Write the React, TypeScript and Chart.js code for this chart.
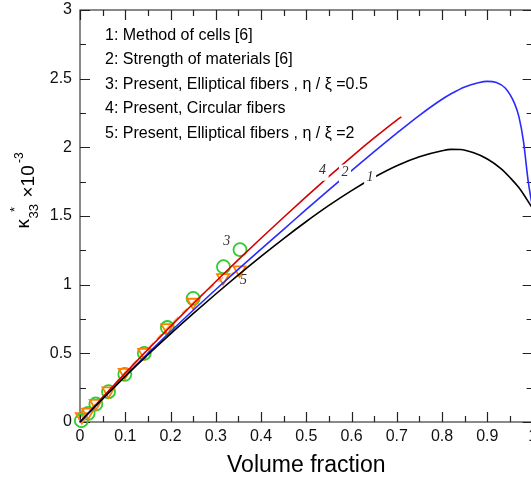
import React, { useEffect, useRef } from "react";
import { Chart, registerables } from "chart.js";

Chart.register(...registerables);

// ---- tick labels / titles ----
const X_TICK_LABELS = ["0", "0.1", "0.2", "0.3", "0.4", "0.5", "0.6", "0.7", "0.8", "0.9", "1"];
const Y_TICK_LABELS = ["0", "0.5", "1", "1.5", "2", "2.5", "3"];
const X_AXIS_TITLE = "Volume fraction";

const LEGEND_LINES = [
  "1: Method of cells [6]",
  "2: Strength of materials [6]",
  "3: Present, Elliptical fibers , \u03b7 / \u03be =0.5",
  "4: Present, Circular fibers",
  "5: Present, Elliptical fibers , \u03b7 / \u03be =2",
];

// ---- series 1: Method of cells ----
const CELLS_X = [0, 0.05, 0.1, 0.15, 0.2, 0.25, 0.3, 0.35, 0.4, 0.45, 0.5, 0.55, 0.6, 0.65, 0.7, 0.75, 0.8, 0.82, 0.84, 0.87, 0.9, 0.93, 0.95, 0.97, 1.0];
const CELLS_Y = [0, 0.168, 0.332, 0.49, 0.642, 0.789, 0.932, 1.071, 1.206, 1.336, 1.46, 1.577, 1.685, 1.782, 1.866, 1.931, 1.975, 1.985, 1.984, 1.96, 1.915, 1.845, 1.78, 1.705, 1.555];

// ---- series 2: Strength of materials ----
const STRENGTH_X = [0, 0.05, 0.1, 0.15, 0.2, 0.25, 0.3, 0.35, 0.4, 0.45, 0.5, 0.55, 0.6, 0.65, 0.7, 0.75, 0.8, 0.82, 0.85, 0.88, 0.9, 0.92, 0.94, 0.96, 0.97, 0.98, 0.99, 1.0];
const STRENGTH_Y = [0, 0.17, 0.337, 0.5, 0.659, 0.814, 0.965, 1.113, 1.259, 1.403, 1.548, 1.69, 1.83, 1.968, 2.103, 2.233, 2.35, 2.39, 2.44, 2.47, 2.48, 2.472, 2.43, 2.32, 2.22, 2.04, 1.76, 1.56];

// ---- series 4: Present, circular fibers ----
const CIRCULAR_X = [0, 0.05, 0.1, 0.15, 0.2, 0.25, 0.3, 0.35, 0.4, 0.45, 0.5, 0.55, 0.6, 0.65, 0.7, 0.71];
const CIRCULAR_Y = [0, 0.18, 0.356, 0.528, 0.696, 0.861, 1.023, 1.182, 1.338, 1.491, 1.641, 1.788, 1.931, 2.068, 2.198, 2.222];

// ---- series 3: Present, elliptical fibers, eta/xi = 0.5 ----
const ELLIPTIC_05_X = [0.003, 0.018, 0.035, 0.063, 0.099, 0.142, 0.193, 0.25, 0.317, 0.3535];
const ELLIPTIC_05_Y = [0.01, 0.063, 0.131, 0.221, 0.347, 0.5, 0.688, 0.9, 1.131, 1.255];

// ---- series 5: Present, elliptical fibers, eta/xi = 2 ----
const ELLIPTIC_2_X = [0.004, 0.018, 0.035, 0.063, 0.099, 0.142, 0.193, 0.25, 0.316, 0.3525];
const ELLIPTIC_2_Y = [0.039, 0.072, 0.136, 0.226, 0.362, 0.507, 0.687, 0.872, 1.051, 1.107];

// ---- curve labels (data coordinates) ----
const CURVE_LABELS = ["1", "2", "3", "4", "5"];
const CURVE_LABEL_X = [0.641, 0.5855, 0.324, 0.536, 0.361];
const CURVE_LABEL_Y = [1.784, 1.816, 1.313, 1.83, 1.029];
const CURVE_LABEL_GAP = [true, true, false, true, false];

const SANS = "'Liberation Sans', Arial, Helvetica, sans-serif";
const SERIF = "'Liberation Serif', 'Times New Roman', serif";

const pts = (xs: number[], ys: number[]) => xs.map((x, i) => ({ x, y: ys[i] }));

const framePlugin = {
  id: "frame",
  beforeDatasetsDraw(chart: any) {
    const { ctx, chartArea: a, scales } = chart;
    const xs = scales.x;
    const ys = scales.y;
    ctx.save();
    ctx.strokeStyle = "#4a4a4a";
    ctx.lineWidth = 1.3;
    ctx.strokeRect(a.left, a.top, a.right - a.left, a.bottom - a.top);
    ctx.strokeStyle = "#222";
    ctx.lineWidth = 1.2;
    ctx.beginPath();
    const xMax = X_TICK_LABELS.length - 1;
    for (let i = 0; i <= xMax * 2; i++) {
      const v = i / (xMax * 2);
      const px = Math.round(xs.getPixelForValue(v)) + 0.5;
      const len = i % 2 === 0 ? 10 : 6;
      ctx.moveTo(px, a.bottom);
      ctx.lineTo(px, a.bottom - len);
      ctx.moveTo(px, a.top);
      ctx.lineTo(px, a.top + len);
    }
    const yMaxVal = parseFloat(Y_TICK_LABELS[Y_TICK_LABELS.length - 1]);
    const yN = (Y_TICK_LABELS.length - 1) * 2;
    for (let i = 0; i <= yN; i++) {
      const v = (i / yN) * yMaxVal;
      const py = Math.round(ys.getPixelForValue(v)) + 0.5;
      const len = i % 2 === 0 ? 10 : 6;
      ctx.moveTo(a.left, py);
      ctx.lineTo(a.left + len, py);
      ctx.moveTo(a.right, py);
      ctx.lineTo(a.right - len, py);
    }
    ctx.stroke();
    ctx.restore();
  },
};

const labelsPlugin = {
  id: "curveLabels",
  afterDatasetsDraw(chart: any) {
    const { ctx, scales } = chart;
    ctx.save();
    ctx.font = "italic 14px " + SERIF;
    ctx.textAlign = "center";
    ctx.textBaseline = "middle";
    CURVE_LABELS.forEach((t, i) => {
      const px = scales.x.getPixelForValue(CURVE_LABEL_X[i]);
      const py = scales.y.getPixelForValue(CURVE_LABEL_Y[i]);
      if (CURVE_LABEL_GAP[i]) {
        ctx.fillStyle = "#ffffff";
        ctx.fillRect(px - 6, py - 8, 12, 18);
      }
      ctx.fillStyle = "#333";
      ctx.fillText(t, px, py);
    });
    ctx.restore();
  },
};

const textPlugin = {
  id: "texts",
  afterDraw(chart: any) {
    const { ctx, chartArea: a } = chart;
    ctx.save();
    // legend block
    ctx.fillStyle = "#000";
    ctx.font = "16px " + SANS;
    ctx.textAlign = "left";
    ctx.textBaseline = "alphabetic";
    LEGEND_LINES.forEach((t, i) => {
      ctx.fillText(t, a.left + 25, a.top + 30 + i * 24.4);
    });
    // x axis title
    ctx.font = "23px " + SANS;
    ctx.textAlign = "center";
    ctx.fillText(X_AXIS_TITLE, (a.left + a.right) / 2, 472);
    // y axis title pieces (rotated)
    const piece = (txt: string, font: string, bx: number, startY: number) => {
      ctx.save();
      ctx.translate(bx, startY);
      ctx.rotate(-Math.PI / 2);
      ctx.font = font;
      ctx.textAlign = "left";
      ctx.textBaseline = "alphabetic";
      ctx.fillText(txt, 0, 0);
      ctx.restore();
    };
    piece("\u03ba", "19px " + SANS, 28.5, 228.5);
    piece("33", "13px " + SANS, 37.5, 218.5);
    piece("*", "13px " + SANS, 19, 212);
    piece("\u00d710", "19px " + SANS, 33.5, 197.5);
    piece("-3", "12px " + SANS, 23, 163);
    ctx.restore();
  },
};

export default function App() {
  const ref = useRef<HTMLCanvasElement | null>(null);
  useEffect(() => {
    if (!ref.current) return;
    const chart = new Chart(ref.current, {
      type: "line",
      data: {
        datasets: [
          {
            label: "Method of cells",
            data: pts(CELLS_X, CELLS_Y),
            borderColor: "#000000",
            borderWidth: 1.6,
            pointRadius: 0,
            cubicInterpolationMode: "monotone",
            clip: false,
          },
          {
            label: "Strength of materials",
            data: pts(STRENGTH_X, STRENGTH_Y),
            borderColor: "#2a2aff",
            borderWidth: 1.6,
            pointRadius: 0,
            cubicInterpolationMode: "monotone",
            clip: false,
          },
          {
            label: "Present, Circular fibers",
            data: pts(CIRCULAR_X, CIRCULAR_Y),
            borderColor: "#d40000",
            borderWidth: 1.6,
            pointRadius: 0,
            cubicInterpolationMode: "monotone",
            clip: false,
          },
          {
            label: "Present, Elliptical fibers, eta/xi=2",
            data: pts(ELLIPTIC_2_X, ELLIPTIC_2_Y),
            showLine: true,
            borderColor: "rgba(255,150,60,0.75)",
            borderDash: [7, 5],
            borderWidth: 1.4,
            pointStyle: "triangle",
            pointRotation: 180,
            pointRadius: 7,
            pointBorderColor: "#ff8000",
            pointBackgroundColor: "rgba(0,0,0,0)",
            pointBorderWidth: 1.8,
            clip: false,
          } as any,
          {
            label: "Present, Elliptical fibers, eta/xi=0.5",
            data: pts(ELLIPTIC_05_X, ELLIPTIC_05_Y),
            showLine: false,
            pointStyle: "circle",
            pointRadius: 6.5,
            pointBorderColor: "#2ecc2e",
            pointBackgroundColor: "rgba(0,0,0,0)",
            pointBorderWidth: 1.8,
            clip: false,
          } as any,
        ],
      },
      options: {
        animation: false,
        responsive: false,
        maintainAspectRatio: false,
        devicePixelRatio: 1,
        layout: { padding: { top: 10, right: 27.4, left: 0, bottom: 0 } },
        plugins: { legend: { display: false }, tooltip: { enabled: false }, title: { display: false } },
        scales: {
          x: {
            type: "linear",
            position: "bottom",
            min: 0,
            max: 1,
            grid: { display: false, drawTicks: false },
            border: { display: false },
            ticks: {
              stepSize: 0.1,
              autoSkip: false,
              maxRotation: 0,
              padding: 5,
              color: "#111",
              font: { family: SANS, size: 16 },
              callback: (v: any) => X_TICK_LABELS[Math.round(Number(v) * 10)] ?? "",
            },
            afterFit: (s: any) => {
              s.height = 58;
              s.paddingLeft = 0;
              s.paddingRight = 0;
            },
          },
          y: {
            type: "linear",
            position: "left",
            min: 0,
            max: 3,
            grid: { display: false, drawTicks: false },
            border: { display: false },
            ticks: {
              stepSize: 0.5,
              autoSkip: false,
              padding: 8,
              color: "#111",
              font: { family: SANS, size: 16 },
              callback: (v: any) => Y_TICK_LABELS[Math.round(Number(v) * 2)] ?? "",
            },
            afterFit: (s: any) => {
              s.width = 80;
              s.paddingTop = 0;
              s.paddingBottom = 0;
            },
          },
        },
      } as any,
      plugins: [framePlugin, labelsPlugin, textPlugin],
    });
    return () => chart.destroy();
  }, []);

  return (
    <div style={{ position: "absolute", left: 0, top: 0, width: 531, height: 480, overflow: "hidden", background: "#fff" }}>
      <canvas ref={ref} width={560} height={480} style={{ width: 560, height: 480, display: "block" }} />
    </div>
  );
}
